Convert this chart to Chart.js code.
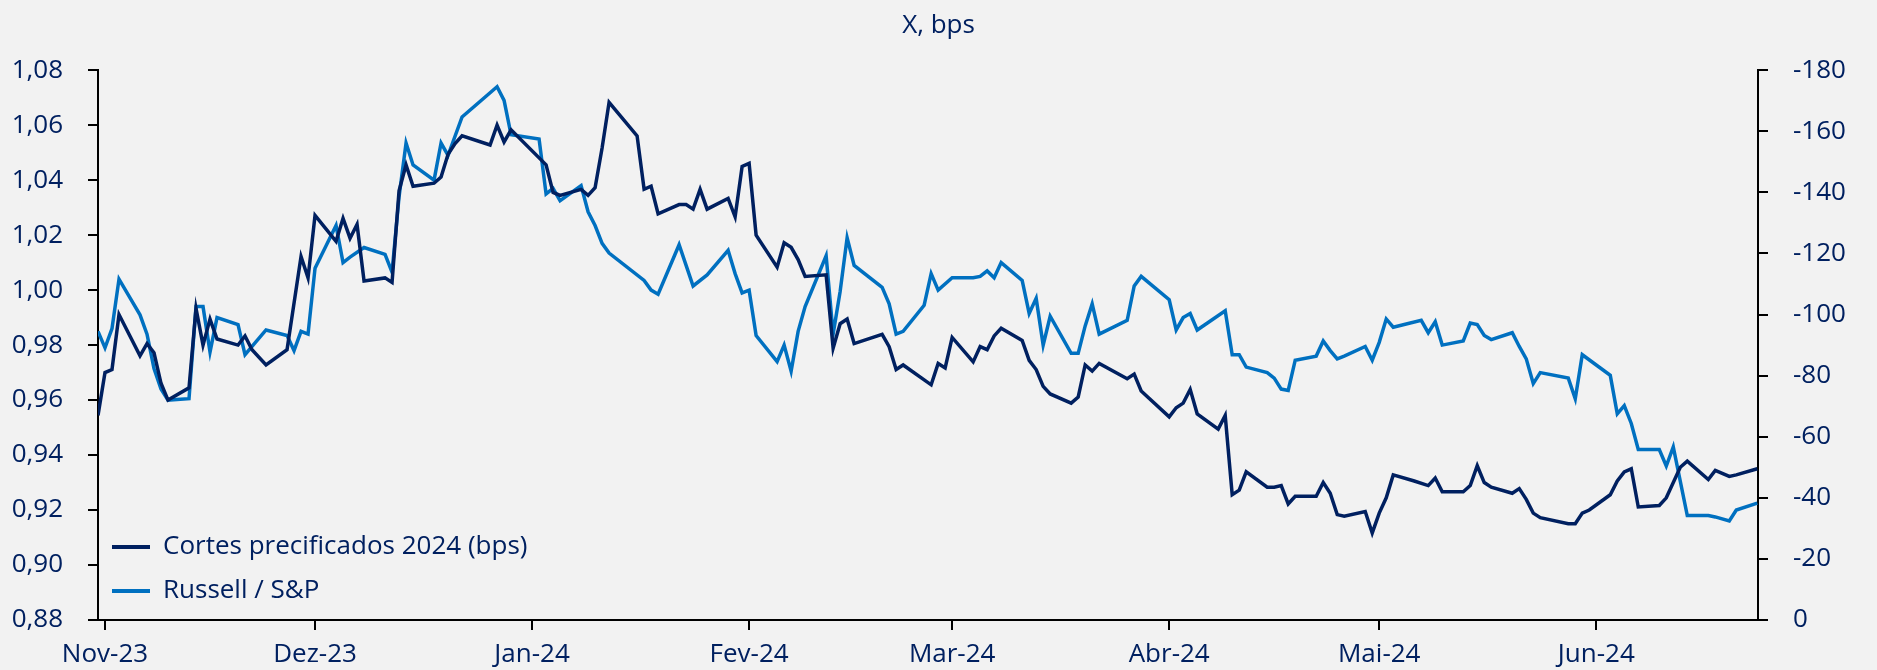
<!DOCTYPE html>
<html>
<head>
<meta charset="utf-8">
<script src="https://cdn.jsdelivr.net/npm/chart.js@4"></script>
<style>
  html, body { margin: 0; padding: 0; background: #f2f2f2; }
</style>
</head>
<body>
<canvas id="chart" width="1877" height="670"></canvas>
<script>
const navy = '#002060';
const blue = '#0070C0';

// x values are calendar days counted from 1 Nov 2023
const monthTicks = [0, 30, 61, 92, 121, 152, 182, 213];
const monthLabels = ['Nov-23', 'Dez-23', 'Jan-24', 'Fev-24', 'Mar-24', 'Abr-24', 'Mai-24', 'Jun-24'];

// Cortes precificados 2024 (bps) - right axis
const cortesDays = [-1, 0, 1, 2, 5, 6, 7, 8, 9, 12, 13, 14, 15, 16, 19, 20, 21, 23, 26, 28, 29, 30, 33, 34, 35, 36, 37, 40, 41, 42,
  43, 44, 47, 48, 49, 50, 51, 55, 56, 57, 58, 63, 64, 65, 68, 69, 70, 71, 72, 76, 77, 78, 79, 82, 83, 84, 85, 86, 89, 90,
  91, 92, 93, 96, 97, 98, 99, 100, 103, 104, 105, 106, 107, 111, 112, 113, 114, 118, 119, 120, 121, 124, 125, 126, 127, 128, 131, 132, 133, 134,
  135, 138, 139, 140, 141, 142, 146, 147, 148, 152, 153, 154, 155, 156, 159, 160, 161, 162, 163, 166, 167, 168, 169, 170, 173, 174, 175, 176, 177, 180,
  181, 182, 183, 184, 187, 189, 190, 191, 194, 195, 196, 197, 198, 201, 202, 203, 204, 205, 209, 210, 211, 212, 215, 216, 217, 218, 219, 222, 223, 225,
  226, 229, 230, 232, 233, 236];
const cortesValues = [-67, -81, -82, -100, -86.5, -90.5, -87.5, -77.5, -72, -76, -102, -90, -98.5, -92, -90, -93, -88.5, -83.5, -88.5, -119, -112, -132.5, -124, -131.5, -125, -129.5, -111, -112, -110.5, -140.5,
  -149, -142, -143, -145, -152.5, -156, -158.5, -155.5, -162, -156.5, -160.5, -149, -140, -139, -141, -139, -141.5, -154.5, -169.5, -158.5, -141, -142, -133, -136, -136, -134.5, -141, -134.5, -138, -132,
  -148.5, -149.5, -126, -115.5, -123.5, -122, -118, -112.5, -113, -89, -97, -98.5, -90.5, -93.5, -89.5, -82, -83.5, -77, -84, -82.5, -92.5, -84.5, -89.5, -88.5, -93, -95.5, -91.5, -85, -82, -76.5,
  -74, -71, -73, -83.5, -81.5, -84, -79, -80.5, -75, -66.5, -69.5, -71, -75.5, -67.5, -62.5, -67, -41, -42.5, -48.5, -43.5, -43.5, -44, -38, -40.5, -40.5, -45, -41.5, -34.5, -34, -35.5,
  -28.5, -35, -40, -47.5, -45.5, -44, -46.5, -42, -42, -44, -50.5, -45, -43.5, -41.5, -43, -39.5, -35, -33.5, -31.5, -31.5, -35, -36, -41, -45.5, -48.5, -49.5, -37, -37.5, -40, -50,
  -52, -46, -49, -47, -47.5, -49.5];

// Russell / S&P - left axis
const russellDays = [-1, 0, 1, 2, 5, 6, 7, 8, 9, 12, 13, 14, 15, 16, 19, 20, 23, 26, 27, 28, 29, 30, 33, 34, 35, 37, 40, 41, 42, 43,
  44, 47, 48, 49, 51, 56, 57, 58, 62, 63, 64, 65, 68, 69, 70, 71, 72, 77, 78, 79, 82, 83, 84, 86, 89, 90, 91, 92, 93, 96,
  97, 98, 99, 100, 103, 104, 105, 106, 107, 111, 112, 113, 114, 117, 118, 119, 121, 124, 125, 126, 127, 128, 131, 132, 133, 134, 135, 138, 139, 140,
  141, 142, 146, 147, 148, 152, 153, 154, 155, 156, 160, 161, 162, 163, 166, 167, 168, 169, 170, 173, 174, 175, 176, 177, 180, 181, 182, 183, 184, 188,
  189, 190, 191, 194, 195, 196, 197, 198, 201, 202, 203, 204, 205, 209, 210, 211, 215, 216, 217, 218, 219, 222, 223, 224, 226, 229, 230, 232, 233, 236];
const russellValues = [0.985, 0.979, 0.986, 1.004, 0.991, 0.984, 0.9715, 0.964, 0.960, 0.9605, 0.994, 0.994, 0.9775, 0.990, 0.9875, 0.9765, 0.9855, 0.9835, 0.978, 0.985, 0.984, 1.008, 1.0235, 1.010, 1.012, 1.0155, 1.013, 1.0065, 1.034, 1.0535,
  1.0455, 1.040, 1.0535, 1.049, 1.063, 1.074, 1.069, 1.0565, 1.055, 1.035, 1.037, 1.0325, 1.038, 1.0285, 1.0235, 1.017, 1.0135, 1.0035, 1.000, 0.9985, 1.0165, 1.009, 1.0015, 1.0055, 1.0145, 1.006, 0.999, 1.000, 0.9835, 0.974,
  0.980, 0.9705, 0.985, 0.994, 1.0125, 0.984, 0.9995, 1.019, 1.009, 1.001, 0.995, 0.984, 0.985, 0.9945, 1.006, 1.000, 1.0045, 1.0045, 1.005, 1.007, 1.0045, 1.010, 1.0035, 0.9915, 0.997, 0.980, 0.9905, 0.977, 0.977, 0.987,
  0.995, 0.984, 0.989, 1.0015, 1.005, 0.9965, 0.9855, 0.990, 0.9915, 0.9855, 0.9925, 0.9765, 0.9765, 0.972, 0.970, 0.968, 0.964, 0.9635, 0.9745, 0.976, 0.9815, 0.978, 0.975, 0.976, 0.9795, 0.9745, 0.981, 0.9895, 0.9865, 0.989,
  0.9845, 0.9885, 0.980, 0.9815, 0.988, 0.9875, 0.9835, 0.982, 0.9845, 0.9795, 0.975, 0.966, 0.970, 0.968, 0.9605, 0.9765, 0.969, 0.955, 0.958, 0.9515, 0.942, 0.942, 0.936, 0.943, 0.918, 0.918, 0.9175, 0.916, 0.920, 0.9225];

const toPoints = (days, values) => days.map((d, i) => ({ x: d, y: values[i] }));

Chart.defaults.font.family = '"Open Sans", sans-serif';
Chart.defaults.font.size = 26;
Chart.defaults.color = navy;

// legend drawn inside the plot, bottom left
const insideLegend = {
    id: 'insideLegend',
    afterDatasetsDraw(chart) {
        const ctx = chart.ctx;
        const area = chart.chartArea;
        ctx.save();
        ctx.font = '26px "Open Sans", sans-serif';
        ctx.textBaseline = 'middle';
        chart.data.datasets.forEach((ds, i) => {
            const y = area.bottom - 73 + i * 44;
            ctx.strokeStyle = ds.borderColor;
            ctx.lineWidth = 4;
            ctx.beginPath();
            ctx.moveTo(area.left + 14, y);
            ctx.lineTo(area.left + 52, y);
            ctx.stroke();
            ctx.fillStyle = navy;
            ctx.fillText(ds.label, area.left + 65, y);
        });
        ctx.restore();
    }
};

const ctx = document.getElementById('chart').getContext('2d');
new Chart(ctx, {
    type: 'line',
    data: {
        datasets: [
            { label: 'Cortes precificados 2024 (bps)', data: toPoints(cortesDays, cortesValues), yAxisID: 'y2',
              borderColor: navy, borderWidth: 3.5, pointRadius: 0, tension: 0 },
            { label: 'Russell / S&P', data: toPoints(russellDays, russellValues), yAxisID: 'y',
              borderColor: blue, borderWidth: 3.5, pointRadius: 0, tension: 0 }
        ]
    },
    options: {
        responsive: false,
        animation: false,
        layout: { padding: 0 },
        plugins: {
            legend: { display: false },
            tooltip: { enabled: false },
            title: { display: true, text: 'X, bps', color: navy, font: { size: 26, weight: 'normal' }, padding: { top: 10, bottom: 29 } }
        },
        scales: {
            x: {
                type: 'linear', min: -1, max: 236.1,
                afterBuildTicks: s => { s.ticks = monthTicks.map(v => ({ value: v })); },
                afterFit: s => { s.height = 50; },
                ticks: { callback: (v, i) => monthLabels[i], padding: 9, maxRotation: 0, autoSkip: false },
                grid: { drawOnChartArea: false, tickLength: 10, color: '#000', lineWidth: 2 },
                border: { color: '#000', width: 2 }
            },
            y: {
                position: 'left', min: 0.88, max: 1.08,
                afterFit: s => { s.width = 98; },
                ticks: { stepSize: 0.02, padding: 25, callback: v => v.toFixed(2).replace('.', ',') },
                grid: { drawOnChartArea: false, tickLength: 10, color: '#000', lineWidth: 2 },
                border: { color: '#000', width: 2 }
            },
            y2: {
                position: 'right', min: -180, max: 0, reverse: true,
                afterFit: s => { s.width = 119; },
                ticks: { stepSize: 20, padding: 25, callback: v => String(Math.round(v)) },
                grid: { drawOnChartArea: false, tickLength: 10, color: '#000', lineWidth: 2 },
                border: { color: '#000', width: 2 }
            }
        }
    },
    plugins: [insideLegend]
});
</script>
</body>
</html>
